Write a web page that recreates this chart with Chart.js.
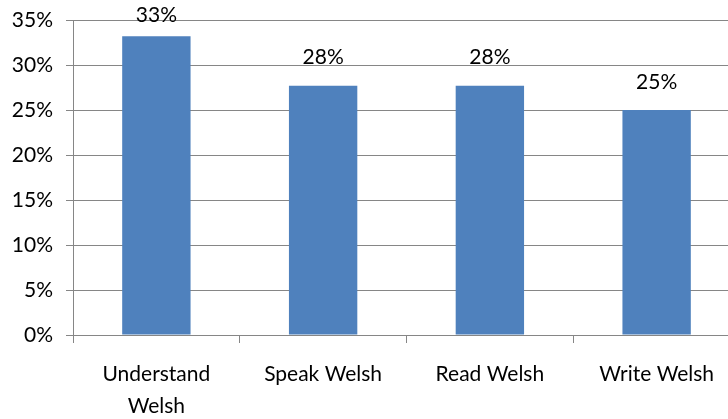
<!DOCTYPE html>
<html>
<head>
<meta charset="utf-8">
<script src="https://cdn.jsdelivr.net/npm/chart.js@4/dist/chart.umd.min.js"></script>
<style>
	html, body { margin: 0; padding: 0; background: #fff; overflow: hidden; }
	#wrap { width: 742px; height: 419px; }
</style>
</head>
<body>
<div id="wrap"><canvas id="chart" width="742" height="419"></canvas></div>
<script>
const categories = [['Understand', 'Welsh'], 'Speak Welsh', 'Read Welsh', 'Write Welsh'];
const percent_values = [33.2, 27.7, 27.7, 25.0];
const y_ticks = [0, 5, 10, 15, 20, 25, 30, 35];

const FONT = 'Lato, "Open Sans", sans-serif';
const axis_grey = '#868686';

// draws the % value above each bar
const bar_labels = {
	id: 'bar_labels',
	afterDatasetsDraw(chart) {
		const ctx = chart.ctx;
		const meta = chart.getDatasetMeta(0);
		ctx.save();
		ctx.font = '21px ' + FONT;
		ctx.fillStyle = '#000';
		ctx.textAlign = 'center';
		ctx.textBaseline = 'middle';
		meta.data.forEach((bar, i) => {
			const y = Math.max(bar.y - 28, 15);
			ctx.fillText(Math.round(percent_values[i]) + '%', bar.x, y);
		});
		ctx.restore();
	}
};

new Chart(document.getElementById('chart'), {
	type: 'bar',
	data: {
		labels: categories,
		datasets: [{
			data: percent_values,
			backgroundColor: '#4F81BD',
			borderWidth: 0,
			categoryPercentage: 1,
			barPercentage: 0.41
		}]
	},
	options: {
		responsive: false,
		animation: false,
		devicePixelRatio: 1,
		layout: { padding: { top: 20, right: 2, left: 0, bottom: 0 } },
		plugins: { legend: { display: false }, tooltip: { enabled: false } },
		scales: {
			x: {
				afterFit(scale) { scale.height = 84; },
				grid: {
					offset: true,
					drawOnChartArea: false,
					drawTicks: true,
					tickLength: 8,
					color: axis_grey
				},
				border: { color: axis_grey },
				ticks: {
					color: '#000',
					font: { family: FONT, size: 21, lineHeight: 1.52 },
					padding: 15,
					maxRotation: 0
				}
			},
			y: {
				min: 0,
				max: 35,
				afterFit(scale) {
					// fixed width, and let layout.padding decide the top
					scale.width = 73;
					scale.paddingTop = 0;
					scale.paddingBottom = 0;
				},
				afterBuildTicks(scale) { scale.ticks = y_ticks.map(v => ({ value: v })); },
				grid: { color: axis_grey, tickLength: 7 },
				border: { color: axis_grey },
				ticks: {
					color: '#000',
					font: { family: FONT, size: 21 },
					padding: 13,
					callback: v => v + '%'
				}
			}
		}
	},
	plugins: [bar_labels]
});
</script>
</body>
</html>
